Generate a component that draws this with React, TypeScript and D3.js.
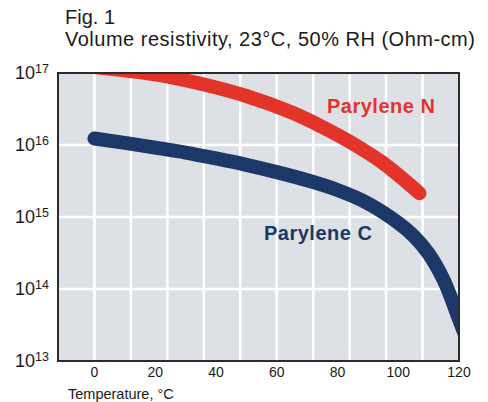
import React, { useRef, useEffect } from 'react';
import * as d3 from 'd3';

// Temperature (°C) and volume resistivity (Ohm-cm)
const parylene_N_temp = [-12, 0, 20, 35, 50, 65, 75, 85, 95, 107];
const parylene_N_rho = [1.38e17, 1.21e17, 9.55e16, 7.08e16, 4.79e16, 2.82e16, 1.78e16, 1.05e16, 5.62e15, 2.14e15];

const parylene_C_temp = [0, 10, 20, 30, 40, 50, 60, 70, 80, 90, 100, 105, 110, 115, 120, 122];
const parylene_C_rho = [
  1.23e16, 1.07e16, 9.2e15, 7.85e15, 6.5e15, 5.3e15, 4.2e15, 3.24e15, 2.37e15, 1.55e15, 8.3e14, 5.5e14,
  3.1e14, 1.32e14, 3.8e13, 2.3e13,
];

const xTickLabels = [0, 20, 40, 60, 80, 100, 120];
const yTickExponents = [13, 14, 15, 16, 17];

const WIDTH = 488;
const HEIGHT = 402;
const margin = { top: 73, right: 29, bottom: 41, left: 58 };

const FONT = 'Liberation Sans, Arial, Helvetica, sans-serif';
const RED = '#e3342a';
const NAVY = '#1b3869';

const App: React.FC = () => {
  const svgRef = useRef<SVGSVGElement>(null);

  useEffect(() => {
    const svg = d3.select(svgRef.current);
    svg.selectAll('*').remove();

    const x = d3
      .scaleLinear()
      .domain([-12, 120])
      .range([margin.left, WIDTH - margin.right]);
    const y = d3
      .scaleLog()
      .domain([1e13, 1e17])
      .range([HEIGHT - margin.bottom, margin.top]);

    const [x0, x1] = x.range();
    const [y0, y1] = y.range();

    // title
    svg
      .append('text')
      .attr('x', 65)
      .attr('y', 24)
      .style('font-family', FONT)
      .style('font-size', '20px')
      .style('fill', '#1a1a1a')
      .text('Fig. 1');
    svg
      .append('text')
      .attr('x', 65)
      .attr('y', 46)
      .style('font-family', FONT)
      .style('font-size', '20px')
      .style('letter-spacing', '0.5px')
      .style('fill', '#1a1a1a')
      .text('Volume resistivity, 23°C, 50% RH (Ohm-cm)');

    // plot background
    svg
      .append('rect')
      .attr('x', x0)
      .attr('y', y1)
      .attr('width', x1 - x0)
      .attr('height', y0 - y1)
      .attr('fill', '#dde1e6');

    // grid
    const grid = svg.append('g');
    grid
      .selectAll('.vgrid')
      .data(d3.range(0, 120, 12))
      .enter()
      .append('line')
      .attr('x1', d => x(d))
      .attr('x2', d => x(d))
      .attr('y1', y1)
      .attr('y2', y0)
      .attr('stroke', '#ffffff')
      .attr('stroke-width', 2.5);
    grid
      .selectAll('.hgrid')
      .data(yTickExponents.slice(1, -1))
      .enter()
      .append('line')
      .attr('x1', x0)
      .attr('x2', x1)
      .attr('y1', d => y(Math.pow(10, d)))
      .attr('y2', d => y(Math.pow(10, d)))
      .attr('stroke', '#ffffff')
      .attr('stroke-width', 2.5);

    // clip curves to the frame
    svg
      .append('clipPath')
      .attr('id', 'plot-clip')
      .append('rect')
      .attr('x', x0)
      .attr('y', y1)
      .attr('width', x1 - x0)
      .attr('height', y0 - y1);

    const line = d3
      .line<[number, number]>()
      .x(d => x(d[0]))
      .y(d => y(d[1]))
      .curve(d3.curveCatmullRom.alpha(0.5));

    const curves = svg.append('g').attr('clip-path', 'url(#plot-clip)');
    const series = [
      { t: parylene_N_temp, r: parylene_N_rho, color: RED },
      { t: parylene_C_temp, r: parylene_C_rho, color: NAVY },
    ];
    series.forEach(s => {
      const pts = s.t.map((t, i) => [t, s.r[i]] as [number, number]);
      curves
        .append('path')
        .attr('d', line(pts) || '')
        .attr('fill', 'none')
        .attr('stroke', s.color)
        .attr('stroke-width', 14)
        .attr('stroke-linecap', 'round')
        .attr('stroke-linejoin', 'round');
    });

    // series labels
    svg
      .append('text')
      .attr('x', 327)
      .attr('y', 113)
      .style('font-family', FONT)
      .style('font-size', '20px')
      .style('font-weight', 'bold')
      .style('letter-spacing', '0.5px')
      .style('fill', RED)
      .text('Parylene N');
    svg
      .append('text')
      .attr('x', 264)
      .attr('y', 240)
      .style('font-family', FONT)
      .style('font-size', '20px')
      .style('font-weight', 'bold')
      .style('letter-spacing', '0.5px')
      .style('fill', NAVY)
      .text('Parylene C');

    // frame
    svg
      .append('rect')
      .attr('x', x0)
      .attr('y', y1)
      .attr('width', x1 - x0)
      .attr('height', y0 - y1)
      .attr('fill', 'none')
      .attr('stroke', '#2b2b2b')
      .attr('stroke-width', 2);

    // y tick labels 10^n
    const yLab = svg
      .append('g')
      .selectAll('text')
      .data(yTickExponents)
      .enter()
      .append('text')
      .attr('x', 49)
      .attr('y', d => y(Math.pow(10, d)) + 6)
      .attr('text-anchor', 'end')
      .style('font-family', FONT)
      .style('font-size', '18px')
      .style('fill', '#1a1a1a');
    yLab.append('tspan').text('10');
    yLab
      .append('tspan')
      .attr('dy', -6)
      .style('font-size', '12.5px')
      .text(d => String(d));

    // x tick labels
    svg
      .append('g')
      .selectAll('text')
      .data(xTickLabels)
      .enter()
      .append('text')
      .attr('x', d => x(d))
      .attr('y', 377)
      .attr('text-anchor', 'middle')
      .style('font-family', FONT)
      .style('font-size', '14px')
      .style('fill', '#1a1a1a')
      .text(d => String(d));

    svg
      .append('text')
      .attr('x', 68)
      .attr('y', 399)
      .style('font-family', FONT)
      .style('font-size', '14.5px')
      .style('fill', '#1a1a1a')
      .text('Temperature, °C');
  }, []);

  return (
    <div style={{ position: 'absolute', left: 0, top: 0, background: '#ffffff' }}>
      <svg ref={svgRef} width={WIDTH} height={HEIGHT} style={{ display: 'block' }} />
    </div>
  );
};

export default App;
